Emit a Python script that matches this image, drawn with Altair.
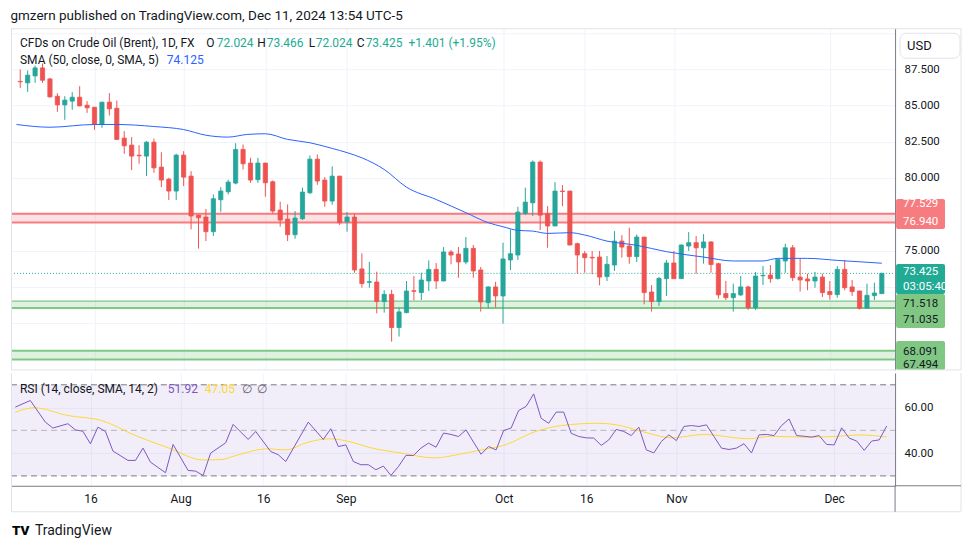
import altair as alt
import pandas as pd

# ---------------- data ----------------
opens = [86.66, 86.56, 87.04, 87.59, 86.83, 85.64, 85.04, 85.30, 85.57, 85.02,
         84.88, 83.69, 85.23, 84.81, 82.75, 82.27, 81.57, 81.51, 82.47, 80.75,
         79.92, 79.10, 81.58, 80.13, 77.44, 77.31, 76.30, 78.50, 79.05, 79.65,
         81.97, 81.03, 79.88, 81.03, 79.74, 77.79, 77.17, 76.09, 77.19, 78.98,
         81.30, 79.86, 78.41, 80.13, 76.98, 77.31, 73.73, 72.81, 72.83, 71.48,
         71.98, 69.69, 70.72, 72.23, 72.10, 72.90, 73.70, 72.90, 74.90, 74.76,
         74.21, 75.15, 73.66, 71.41, 72.49, 71.87, 74.35, 74.69, 77.56, 78.29,
         81.10, 77.54, 76.69, 79.10, 79.10, 75.47, 74.78, 74.53, 74.55, 73.20,
         74.00, 75.65, 75.31, 74.58, 75.93, 72.14, 71.48, 73.06, 74.14, 73.06,
         75.31, 75.54, 75.19, 75.59, 74.09, 72.03, 71.75, 71.94, 72.49, 71.06,
         73.26, 73.31, 73.06, 74.28, 75.19, 73.17, 73.04, 72.90, 73.17, 72.17,
         71.96, 73.70, 72.49, 72.21, 71.02, 71.89, 72.024]
highs = [87.48, 87.41, 87.75, 87.90, 86.90, 85.85, 85.64, 85.92, 86.33, 85.30,
         84.90, 85.25, 85.85, 85.34, 83.23, 82.82, 82.27, 82.54, 82.72, 81.78,
         80.02, 81.67, 81.85, 80.47, 77.48, 77.86, 78.87, 79.37, 79.88, 82.40,
         82.31, 81.39, 81.39, 81.05, 79.83, 78.36, 78.18, 77.72, 79.33, 81.55,
         81.62, 80.06, 80.80, 80.15, 77.65, 77.54, 74.81, 74.21, 73.54, 72.26,
         72.30, 71.06, 72.90, 73.24, 73.47, 74.32, 74.14, 75.24, 75.04, 75.24,
         75.93, 75.38, 73.87, 72.52, 72.85, 75.54, 76.46, 78.02, 79.33, 81.21,
         81.21, 78.06, 79.72, 79.51, 79.12, 75.54, 74.97, 74.97, 74.97, 74.62,
         76.34, 76.06, 76.57, 76.11, 75.93, 72.62, 73.17, 74.35, 74.97, 75.42,
         76.27, 76.00, 76.13, 75.65, 74.16, 72.90, 72.72, 73.24, 72.56, 73.52,
         73.93, 74.00, 74.41, 75.47, 75.38, 74.46, 73.40, 73.52, 73.40, 72.90,
         73.93, 74.35, 72.97, 72.23, 72.72, 72.78, 73.466]
lows = [86.21, 85.94, 86.56, 86.56, 85.55, 84.56, 84.01, 84.70, 84.95, 84.49,
        83.32, 83.46, 84.31, 82.61, 81.67, 80.54, 80.98, 80.13, 80.36, 79.37,
        78.48, 78.48, 79.44, 76.46, 75.13, 75.65, 76.00, 77.67, 78.87, 79.56,
        80.59, 79.67, 79.67, 78.71, 77.56, 76.64, 75.65, 75.81, 77.10, 78.90,
        79.53, 78.02, 78.16, 76.76, 76.30, 73.47, 72.44, 72.44, 70.67, 70.72,
        68.72, 69.07, 70.67, 71.57, 71.59, 72.21, 72.35, 72.88, 74.05, 73.13,
        74.05, 73.13, 70.79, 71.02, 71.06, 69.96, 73.66, 74.35, 77.44, 77.38,
        76.41, 75.19, 76.69, 78.06, 75.36, 73.40, 73.47, 73.36, 72.60, 72.90,
        73.59, 74.51, 74.09, 74.21, 71.29, 70.79, 71.18, 71.87, 73.04, 73.06,
        74.97, 73.40, 74.09, 73.47, 71.68, 71.59, 70.79, 71.87, 70.90, 70.90,
        72.62, 72.78, 73.01, 73.47, 72.90, 72.17, 72.26, 72.44, 71.80, 71.61,
        71.75, 72.26, 71.87, 70.93, 71.02, 71.59, 72.024]
closes = [86.63, 87.09, 87.59, 86.74, 85.59, 85.04, 85.37, 85.57, 84.97, 84.84,
          83.69, 85.23, 84.77, 82.66, 82.22, 81.51, 81.53, 82.47, 80.70, 79.86,
          79.10, 81.58, 80.06, 77.38, 77.26, 76.30, 78.57, 79.10, 79.72, 81.97,
          80.98, 79.86, 81.03, 79.67, 77.72, 77.10, 76.09, 77.24, 79.03, 81.30,
          79.79, 78.41, 80.13, 76.92, 77.31, 73.66, 72.72, 72.85, 71.48, 71.98,
          69.69, 70.77, 72.21, 72.19, 72.97, 73.70, 72.90, 74.90, 74.69, 74.21,
          75.15, 73.59, 71.45, 72.49, 71.87, 74.42, 74.78, 77.65, 78.34, 81.10,
          77.44, 76.69, 79.10, 79.07, 75.38, 74.69, 74.51, 74.49, 73.17, 74.05,
          75.65, 75.24, 74.58, 75.93, 72.10, 71.48, 73.08, 74.14, 73.06, 75.38,
          75.54, 75.19, 75.59, 74.03, 71.94, 71.75, 72.03, 72.49, 71.06, 73.24,
          73.29, 73.06, 74.39, 75.19, 73.13, 72.97, 72.90, 73.17, 72.10, 71.96,
          73.70, 72.44, 72.17, 71.02, 71.91, 72.07, 73.425]

sma_idx = [0.5, 5, 11, 14, 19, 23, 26, 29, 31.5, 34, 37, 40, 43, 45, 47, 50, 53, 57,
           61, 64, 66, 68, 70, 72, 75, 77, 80, 84, 88, 93, 97, 101, 103, 107, 111, 117]
sma_val = [83.69, 83.50, 83.69, 83.69, 83.55, 83.34, 82.95, 82.82, 83.00, 83.05,
           82.66, 82.43, 82.04, 81.75, 81.39, 80.59, 79.37, 78.52, 77.61, 76.92,
           76.64, 76.39, 76.34, 76.18, 76.23, 76.07, 75.65, 75.36, 74.92, 74.55,
           74.28, 74.28, 74.46, 74.46, 74.32, 74.125]

rsi_idx = [1, 3, 5, 6, 8, 9, 10, 11, 12, 13, 14, 16, 17, 18, 19, 21, 22, 24, 25, 26,
           27, 29, 30, 32, 33, 35, 36, 37, 40, 42, 43, 44, 45, 46, 47, 48, 49, 50, 51,
           52, 53, 54, 55, 56, 57, 58, 59, 60, 61, 62, 63, 64, 65, 66, 67, 68, 69, 70,
           71, 72, 73, 74, 75, 76, 77, 78, 79, 80, 81, 82, 83, 84, 85, 86, 87, 88, 89,
           90, 91, 92, 93, 94, 95, 96, 97, 98, 99, 100, 101, 102, 103, 104, 105, 106,
           107, 108, 109, 110, 111, 112, 113, 114, 115, 116, 117]
rsi_val = [60.2, 63.1, 53.6, 51.0, 52.9, 50.2, 49.6, 44.1, 51.4, 49.5, 40.9, 36.8,
           36.8, 42.2, 36.0, 31.4, 43.8, 32.4, 32.1, 30.2, 40.0, 44.5, 52.6, 46.0,
           49.5, 40.7, 39.3, 36.3, 53.6, 46.0, 50.7, 42.9, 43.6, 36.3, 34.9, 34.9,
           32.7, 34.3, 30.2, 34.1, 39.0, 39.0, 42.2, 44.4, 42.6, 48.8, 48.2, 47.3,
           50.2, 44.8, 39.5, 42.9, 41.4, 49.9, 51.0, 58.7, 60.5, 66.0, 55.3, 53.1,
           58.0, 58.0, 48.7, 47.3, 46.7, 46.6, 43.4, 45.8, 50.4, 49.5, 47.7, 51.4,
           41.4, 40.1, 45.1, 48.0, 45.5, 51.7, 52.1, 51.7, 52.4, 47.3, 42.2, 41.6,
           42.2, 44.1, 40.1, 48.0, 48.2, 47.7, 52.1, 55.0, 47.7, 47.4, 47.0, 47.7,
           43.8, 43.6, 51.1, 46.6, 45.3, 41.2, 45.3, 45.8, 51.92]

rsisma_idx = [1, 3.5, 8, 12.5, 17, 21.4, 26, 28.5, 30.2, 34.7, 36.9, 40, 42.8, 45.8,
              48, 52.4, 56.8, 60, 63, 66, 70.6, 73.7, 78.6, 80.7, 85.2, 88.3, 92.7,
              98.6, 101.7, 106, 110.6, 113.3, 117]
rsisma_val = [57.9, 59.9, 56.5, 54.3, 47.7, 42.3, 37.0, 37.2, 38.8, 41.9, 41.4, 44.8,
              46.3, 44.8, 42.6, 40.0, 37.9, 39.4, 41.4, 43.4, 49.9, 52.1, 53.1, 52.6,
              48.8, 46.7, 48.2, 46.3, 47.4, 47.0, 47.4, 48.0, 47.05]

red_zone = [76.940, 77.529]
green_zone1 = [71.035, 71.518]
green_zone2 = [67.494, 68.091]
last_price = 73.425
countdown = "03:05:40"
sma_last = 74.125
rsi_last, rsisma_last = 51.92, 47.05

price_ticks = [67.5, 70.0, 72.5, 75.0, 77.5, 80.0, 82.5, 85.0, 87.5, 90.0]
price_labels_shown = [75.0, 80.0, 82.5, 85.0, 87.5]
rsi_ticks = [40, 60]
date_idx = [11, 23, 34, 45, 66, 77, 89, 110]
date_labels = ["16", "Aug", "16", "Sep", "Oct", "16", "Nov", "Dec"]

HEADER = "gmzern published on TradingView.com, Dec 11, 2024 13:54 UTC-5"

# ---------------- styling ----------------
FONT = "Roboto"
GREEN, RED = "#26a69a", "#ef5350"
TEAL_T = "#22ab94"
BLUE = "#2962ff"
TAG_RED, TAG_GREEN = "#f77c80", "#81c784"
PURPLE, YELLOW = "#7e57c2", "#fdd835"
DARK = "#131722"
GRID = "#f0f3fa"
BORDER = "#e0e3eb"
AXLINE = "#787b86"

W, H1, H2 = 885, 342, 113
xs = alt.Scale(domain=[0.428, 118.11], nice=False, zero=False)
ys = alt.Scale(domain=[66.77, 90.324], nice=False, zero=False)
rs = alt.Scale(domain=[25.66, 75.22], nice=False, zero=False)

one = pd.DataFrame({"k": [0]})

candles = pd.DataFrame({"idx": list(range(1, len(opens) + 1)), "o": opens, "h": highs,
                        "l": lows, "c": closes})
candles["dir"] = ["up" if c >= o else "down" for o, c in zip(opens, closes)]
sma_df = pd.DataFrame({"idx": sma_idx, "v": sma_val})
rsi_df = pd.DataFrame({"idx": rsi_idx, "v": rsi_val})
rsisma_df = pd.DataFrame({"idx": rsisma_idx, "v": rsisma_val})

cscale = alt.Scale(domain=["up", "down"], range=[GREEN, RED])

shown = ",".join(str(v) for v in price_labels_shown)
x_top_axis = alt.Axis(values=date_idx, labels=False, ticks=False, domain=False, grid=True,
                      title=None)
y_top_axis = alt.Axis(orient="right", values=price_ticks, grid=True, ticks=False, domain=True,
                      labelPadding=9, title=None, labelAlign="left",
                      labelExpr=f"indexof([{shown}], datum.value) >= 0 ? format(datum.value, '.3f') : ''")
lab_expr = " : ".join(f"datum.value == {i} ? '{t}'" for i, t in zip(date_idx, date_labels)) + " : ''"
x_bot_axis = alt.Axis(values=date_idx, labelExpr=lab_expr, ticks=False, domain=True, grid=True,
                      labelPadding=8, title=None, labelFontSize=12)
y_bot_axis = alt.Axis(orient="right", values=rsi_ticks, format=".2f", grid=True, ticks=False,
                      domain=True, labelPadding=9, title=None, labelAlign="left")


def txt(s, x, y, color=DARK, size=12, weight="normal", align="left"):
    return alt.Chart(one).mark_text(text=s, align=align, baseline="middle", font=FONT,
                                    fontSize=size, color=color, fontWeight=weight).encode(
        x=alt.value(x), y=alt.value(y))


def hrule(y, x1, x2, color, width=1.0):
    return alt.Chart(one).mark_rule(color=color, strokeWidth=width).encode(
        y=alt.value(y), x=alt.value(x1), x2=alt.value(x2))


def vrule(x, y1, y2, color, width=1.0):
    return alt.Chart(one).mark_rule(color=color, strokeWidth=width).encode(
        x=alt.value(x), y=alt.value(y1), y2=alt.value(y2))


def level(v, scale, axis, color, width, dash=None, opacity=1.0):
    kw = dict(color=color, strokeWidth=width, opacity=opacity)
    if dash:
        kw["strokeDash"] = dash
    return alt.Chart(one).mark_rule(**kw).encode(
        y=alt.YDatum(v, scale=scale, axis=axis), x=alt.value(0), x2=alt.value(W))


def band(lo, hi, scale, axis, color, opacity):
    return alt.Chart(one).mark_rect(color=color, opacity=opacity).encode(
        y=alt.YDatum(hi, scale=scale, axis=axis), y2=alt.datum(lo),
        x=alt.value(0), x2=alt.value(W))


def tagbox(hi, lo, color, off1, off2):
    return alt.Chart(one).mark_rect(color=color, yOffset=off1, y2Offset=off2, cornerRadius=2).encode(
        y=alt.YDatum(hi, scale=ys, axis=y_top_axis), y2=alt.datum(lo),
        x=alt.value(W + 1), x2=alt.value(W + 50))


def tagtxt(v, s, color, dy):
    return alt.Chart(one).mark_text(text=s, align="left", baseline="middle", font=FONT,
                                    fontSize=11.5, color=color, dy=dy).encode(
        y=alt.YDatum(v, scale=ys, axis=y_top_axis), x=alt.value(W + 8))


# ---------------- price pane ----------------
A = y_top_axis
zones = [
    band(red_zone[0], red_zone[1], ys, A, TAG_RED, 0.22),
    band(green_zone1[0], green_zone1[1], ys, A, TAG_GREEN, 0.25),
    band(green_zone2[0], green_zone2[1], ys, A, TAG_GREEN, 0.25),
    level(red_zone[1], ys, A, TAG_RED, 2), level(red_zone[0], ys, A, TAG_RED, 2),
    level(green_zone1[1], ys, A, TAG_GREEN, 1.3), level(green_zone1[0], ys, A, TAG_GREEN, 2),
    level(green_zone2[1], ys, A, TAG_GREEN, 2), level(green_zone2[0], ys, A, TAG_GREEN, 2),
    level(last_price, ys, A, TEAL_T, 1, dash=[1, 2]),
]

wicks = alt.Chart(candles).mark_rule(strokeWidth=1).encode(
    x=alt.X("idx:Q", scale=xs, axis=x_top_axis),
    y=alt.Y("l:Q", scale=ys, axis=A), y2="h:Q",
    color=alt.Color("dir:N", scale=cscale, legend=None))
bodies = alt.Chart(candles).mark_bar(size=4.2, strokeWidth=0.8).encode(
    x=alt.X("idx:Q", scale=xs, axis=x_top_axis),
    y=alt.Y("o:Q", scale=ys, axis=A), y2="c:Q",
    color=alt.Color("dir:N", scale=cscale, legend=None),
    stroke=alt.Stroke("dir:N", scale=cscale, legend=None))
sma_line = alt.Chart(sma_df).mark_line(color=BLUE, strokeWidth=1, interpolate="monotone").encode(
    x=alt.X("idx:Q", scale=xs, axis=x_top_axis),
    y=alt.Y("v:Q", scale=ys, axis=A))

legend_top = [
    txt("CFDs on Crude Oil (Brent), 1D, FX", 9, 15),
    txt("O", 195.5, 15), txt(f"{opens[-1]:.3f}", 206, 15, TEAL_T),
    txt("H", 246.5, 15), txt(f"{highs[-1]:.3f}", 256, 15, TEAL_T),
    txt("L", 298, 15), txt(f"{lows[-1]:.3f}", 305, 15, TEAL_T),
    txt("C", 346, 15), txt(f"{closes[-1]:.3f}", 355, 15, TEAL_T),
    txt("+1.401 (+1.95%)", 398, 15, TEAL_T),
    txt("SMA (50, close, 0, SMA, 5)", 9, 32),
    txt(f"{sma_last:.3f}", 156, 32, BLUE),
]

tags = [
    tagbox(red_zone[1], red_zone[0], TAG_RED, -14.8, 6.7),
    tagtxt(red_zone[1], f"{red_zone[1]:.3f}", "white", -9.5),
    tagtxt(red_zone[0], f"{red_zone[0]:.3f}", "white", -0.6),
    tagbox(last_price, last_price, TEAL_T, -9.4, 20.6),
    tagtxt(last_price, f"{last_price:.3f}", "white", -1.0),
    tagtxt(last_price, countdown, "white", 13.8),
    tagbox(green_zone1[1], green_zone1[0], TAG_GREEN, -7.1, 19.9),
    tagtxt(green_zone1[1], f"{green_zone1[1]:.3f}", DARK, 2.6),
    tagtxt(green_zone1[0], f"{green_zone1[0]:.3f}", DARK, 11.6),
    tagbox(green_zone2[1], green_zone2[0], TAG_GREEN, -9.8, 10.5),
    tagtxt(green_zone2[1], f"{green_zone2[1]:.3f}", DARK, 0.9),
    tagtxt(green_zone2[0], f"{green_zone2[0]:.3f}", DARK, 6.0),
]

usd_box = alt.Chart(one).mark_rect(fill="white", stroke=BORDER, strokeWidth=1, cornerRadius=6).encode(
    x=alt.value(W + 5), x2=alt.value(W + 65), y=alt.value(5), y2=alt.value(30))
frame_top = [
    hrule(0.5, 0, W + 66, BORDER), vrule(0.5, 0, H1, BORDER), vrule(W + 66, 0, H1, BORDER),
    hrule(H1, 0, W + 66, BORDER),
    usd_box, txt("USD", W + 12, 17.5, DARK, 13),
]

top = alt.layer(*zones, wicks, bodies, sma_line, *legend_top, *tags, *frame_top).properties(
    width=W, height=H1)

# ---------------- RSI pane ----------------
B = y_bot_axis
rsi_layers = [
    band(30, 70, rs, B, PURPLE, 0.1),
    level(70, rs, B, AXLINE, 1, dash=[6, 4]),
    level(50, rs, B, AXLINE, 1, dash=[6, 4], opacity=0.5),
    level(30, rs, B, AXLINE, 1, dash=[6, 4]),
]
rsisma_line = alt.Chart(rsisma_df).mark_line(color=YELLOW, strokeWidth=1, interpolate="monotone").encode(
    x=alt.X("idx:Q", scale=xs, axis=x_bot_axis),
    y=alt.Y("v:Q", scale=rs, axis=B))
rsi_line = alt.Chart(rsi_df).mark_line(color=PURPLE, strokeWidth=1).encode(
    x=alt.X("idx:Q", scale=xs, axis=x_bot_axis),
    y=alt.Y("v:Q", scale=rs, axis=B))
legend_bot = [
    txt("RSI (14, close, SMA, 14, 2)", 9, 16),
    txt(f"{rsi_last:.2f}", 157, 16, PURPLE),
    txt(f"{rsisma_last:.2f}", 194, 16, YELLOW),
    txt("\u2205", 231, 16, "#5d606b"),
    txt("\u2205", 246, 16, "#5d606b"),
]
frame_bot = [
    vrule(0.5, 0, H2 + 26, BORDER), vrule(W + 66, 0, H2 + 26, BORDER),
    hrule(H2 + 26, 0, W + 66, BORDER),
    hrule(H2, W, W + 66, AXLINE), vrule(W, H2, H2 + 26, AXLINE),
    txt("TV", 1, H2 + 45, "#000000", 13.5, weight=900),
    txt("TradingView", 24, H2 + 45, DARK, 14),
]
bottom = alt.layer(*rsi_layers, rsisma_line, rsi_line, *legend_bot, *frame_bot).properties(
    width=W, height=H2)

chart = alt.vconcat(top, bottom, spacing=0).properties(
    title=alt.TitleParams(HEADER, anchor="start", fontSize=13.5, fontWeight="normal", color=DARK,
                          font=FONT, offset=5, dx=1),
    padding={"left": 1, "top": 0, "right": 0, "bottom": 0},
).configure_view(stroke="transparent").configure_axis(
    labelFont=FONT, labelFontSize=11.5, labelColor=DARK, gridColor=GRID, gridWidth=1,
    domainColor=AXLINE, tickColor=AXLINE,
)

chart.save("out.html", embed_options={"renderer": "svg", "actions": False})
